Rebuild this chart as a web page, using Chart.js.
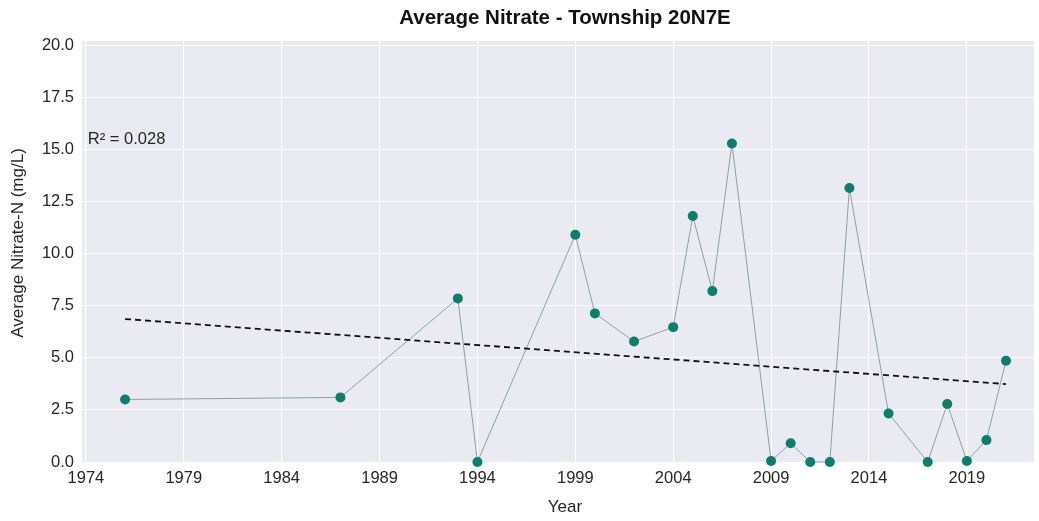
<!DOCTYPE html>
<html>
<head>
<meta charset="utf-8">
<script src="https://cdn.jsdelivr.net/npm/chart.js@4.4.0/dist/chart.umd.min.js"></script>
<style>
  html, body { margin: 0; padding: 0; background: #ffffff; overflow: hidden; }
  #wrap { position: relative; width: 1039px; height: 521px; }
</style>
</head>
<body>
<div id="wrap"><canvas id="c" width="1039" height="521"></canvas></div>
<script>
// ---- Data ----
const years = [1976, 1987, 1993, 1994, 1999, 2000, 2002, 2004, 2005, 2006, 2007, 2009, 2010, 2011, 2012, 2013, 2015, 2017, 2018, 2019, 2020, 2021];
const nitrate = [3.0, 3.1, 7.85, 0.0, 10.9, 7.13, 5.78, 6.47, 11.8, 8.2, 15.28, 0.05, 0.9, 0.0, 0.0, 13.15, 2.33, 0.0, 2.78, 0.05, 1.05, 4.86];
const trendYears = [1976, 2021];
const trendValues = [6.86, 3.74];
const xTickLabels = [1974, 1979, 1984, 1989, 1994, 1999, 2004, 2009, 2014, 2019];
const yTickLabels = [0.0, 2.5, 5.0, 7.5, 10.0, 12.5, 15.0, 17.5, 20.0];
const titleText = 'Average Nitrate - Township 20N7E';
const xTitleText = 'Year';
const yTitleText = 'Average Nitrate-N (mg/L)';
const r2Text = 'R\u00B2 = 0.028';

const FONT = '"Liberation Sans", Arial, sans-serif';
const TXT = '#262626';

const bgPlugin = {
  id: 'bgPlugin',
  beforeDraw(chart) {
    const {ctx, chartArea: a} = chart;
    ctx.save();
    ctx.fillStyle = '#eaeaf2';
    ctx.fillRect(a.left, a.top, a.right - a.left, a.bottom - a.top);
    ctx.restore();
  }
};

const textPlugin = {
  id: 'textPlugin',
  afterDraw(chart) {
    const {ctx, scales} = chart;
    ctx.save();
    ctx.textBaseline = 'middle';
    ctx.textAlign = 'center';
    // title
    ctx.fillStyle = '#111111';
    ctx.font = 'bold 20.5px ' + FONT;
    ctx.fillText(titleText, 565, 18);
    // x axis title
    ctx.fillStyle = TXT;
    ctx.font = '17px ' + FONT;
    ctx.fillText(xTitleText, 565, 507);
    // y axis title
    ctx.save();
    ctx.translate(18, 243);
    ctx.rotate(-Math.PI / 2);
    ctx.fillText(yTitleText, 0, 0);
    ctx.restore();
    // R² annotation
    ctx.font = '16.5px ' + FONT;
    ctx.textAlign = 'left';
    ctx.fillText(r2Text, scales.x.getPixelForValue(1974.1), scales.y.getPixelForValue(15.5));
    ctx.restore();
  }
};

new Chart(document.getElementById('c'), {
  type: 'scatter',
  data: {
    datasets: [
      {
        label: 'Average Nitrate',
        data: years.map((y, i) => ({x: y, y: nitrate[i]})),
        showLine: true,
        borderColor: '#4a706c',
        borderWidth: 0.6,
        pointBackgroundColor: '#0b7f6c',
        pointBorderColor: '#0b7f6c',
        pointRadius: 5,
        pointBorderWidth: 0,
        clip: false,
        order: 1
      },
      {
        label: 'Trend',
        data: trendYears.map((y, i) => ({x: y, y: trendValues[i]})),
        showLine: true,
        borderColor: '#111111',
        borderWidth: 1.8,
        borderDash: [6, 4],
        pointRadius: 0,
        order: 0
      }
    ]
  },
  options: {
    responsive: false,
    animation: false,
    devicePixelRatio: 1,
    layout: { padding: { left: 0, right: 0, top: 41, bottom: 0 } },
    plugins: {
      legend: { display: false },
      title: { display: false },
      tooltip: { enabled: false }
    },
    scales: {
      x: {
        type: 'linear',
        min: 1973.8,
        max: 2022.43,
        afterBuildTicks(scale) { scale.ticks = xTickLabels.map(v => ({value: v})); },
        afterFit(scale) { scale.height = 59; },
        grid: { color: '#ffffff', lineWidth: 1, drawTicks: false },
        border: { display: false },
        ticks: { color: TXT, font: { family: FONT, size: 16.5 }, padding: 7, maxRotation: 0, callback: v => String(v) },
        title: { display: false, text: xTitleText }
      },
      y: {
        type: 'linear',
        min: 0,
        max: 20.2,
        afterBuildTicks(scale) { scale.ticks = yTickLabels.map(v => ({value: v})); },
        afterFit(scale) { scale.width = 82; },
        grid: { color: '#ffffff', lineWidth: 1, drawTicks: false },
        border: { display: false },
        ticks: { color: TXT, font: { family: FONT, size: 16.5 }, padding: 8, callback: v => Number(v).toFixed(1) },
        title: { display: false, text: yTitleText }
      }
    }
  },
  plugins: [bgPlugin, textPlugin]
});
</script>
</body>
</html>
